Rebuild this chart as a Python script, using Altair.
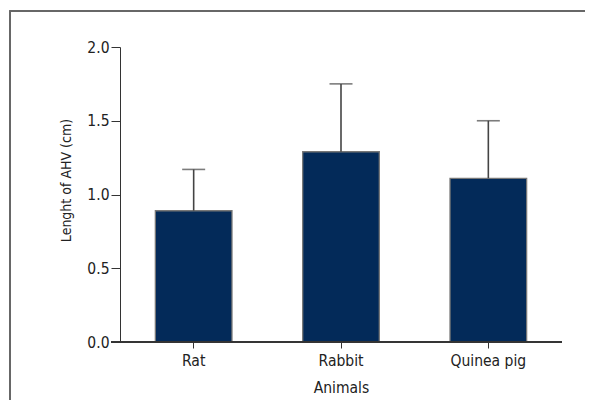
import altair as alt
import pandas as pd

animals = ["Rat", "Rabbit", "Quinea pig"]
means = [0.89, 1.29, 1.11]
errors = [0.28, 0.46, 0.39]

df = pd.DataFrame({
    "animal": animals,
    "mean": means,
    "upper": [m + e for m, e in zip(means, errors)],
})

FONT = "DejaVu Sans Condensed"
FS = 15.5
W, H = 442, 295
RIGHT, BOTTOM = 23, 58

xenc = alt.X("animal:N", sort=animals,
             scale=alt.Scale(paddingInner=0.48, paddingOuter=0.24),
             axis=alt.Axis(title="Animals", labelAngle=0, domain=False,
                           tickSize=6, tickColor="#333", labelPadding=5,
                           labelFontSize=FS, titleFontSize=FS, titleFontWeight="normal",
                           titlePadding=12, labelFont=FONT, titleFont=FONT,
                           labelColor="#222", titleColor="#222"))
yscale = alt.Scale(domain=[0, 2])

frame = alt.Chart(df).mark_rect(fill="transparent", stroke="#666", strokeWidth=1.5).encode(
    x=alt.value(-110), x2=alt.value(W + RIGHT + 30),
    y=alt.value(-36), y2=alt.value(H + BOTTOM + 30),
)

bars = alt.Chart(df).mark_bar(color="#032a59", stroke="#777", strokeWidth=1.3).encode(
    x=xenc,
    y=alt.Y("mean:Q", scale=yscale,
            axis=alt.Axis(title="Lenght of AHV (cm)", values=[0, 0.5, 1, 1.5, 2],
                          format=".1f", tickSize=9, tickColor="#333", domainColor="#333",
                          labelPadding=2, titlePadding=13, titleY=133, grid=False,
                          labelFontSize=FS, titleFontSize=14, titleFontWeight="normal",
                          labelFont=FONT, titleFont=FONT,
                          labelColor="#222", titleColor="#222")),
)

err = alt.Chart(df).mark_rule(color="#444", strokeWidth=1.6).encode(
    x=alt.X("animal:N", sort=animals),
    y=alt.Y("mean:Q", scale=yscale),
    y2="upper:Q",
)
cap = alt.Chart(df).mark_tick(color="#444", thickness=1.6, size=23, orient="horizontal").encode(
    x=alt.X("animal:N", sort=animals),
    y=alt.Y("upper:Q", scale=yscale),
)

xline = alt.Chart(df).mark_rule(color="#333", strokeWidth=1.3).encode(
    x=alt.value(-9), x2=alt.value(W), y=alt.value(H)
)

chart = alt.layer(frame, bars, err, cap, xline).properties(
    width=W, height=H,
    autosize=alt.AutoSizeParams(type="none"),
    padding={"left": 112, "top": 39, "right": RIGHT, "bottom": BOTTOM},
).configure(background="white").configure_view(strokeWidth=0, stroke="transparent")

chart.save("out.html", embed_options={"renderer": "svg", "actions": False})
